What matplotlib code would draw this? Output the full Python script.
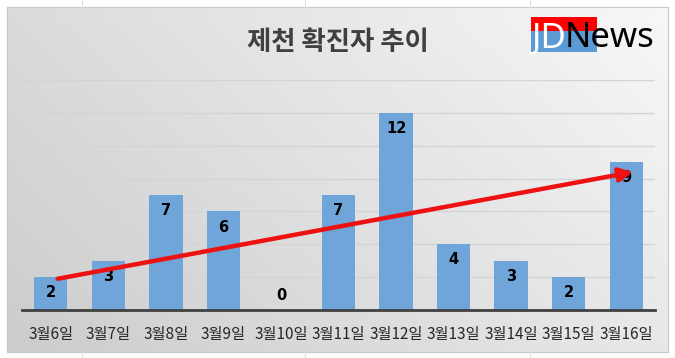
import numpy as np
import matplotlib
matplotlib.use('Agg')
import matplotlib.pyplot as plt
from matplotlib.patches import Rectangle

plt.rcParams['font.family'] = ['Noto Sans CJK KR', 'DejaVu Sans']

dates = ['3월6일', '3월7일', '3월8일', '3월9일', '3월10일', '3월11일',
         '3월12일', '3월13일', '3월14일', '3월15일', '3월16일']
cases = [2, 3, 7, 6, 0, 7, 12, 4, 3, 2, 9]
title = '제천 확진자 추이'

W, H = 675, 358
fig = plt.figure(figsize=(W / 100, H / 100), dpi=100)
fig.patch.set_facecolor('white')

# faint spreadsheet cell lines peeking out around the chart
for x in [82, 305, 530]:
    fig.add_artist(plt.Line2D([x / W, x / W], [1 - 7 / H, 1], color='#e0e0e0', lw=0.8))
    fig.add_artist(plt.Line2D([x / W, x / W], [0, 6 / H], color='#e0e0e0', lw=0.8))

# chart area with grey gradient
bg = fig.add_axes([7 / W, 6 / H, 661 / W, 345 / H])
gx, gy = np.meshgrid(np.linspace(0, 1, 200), np.linspace(0, 1, 120))
shade = 0.80 + 0.11 * gx + 0.06 * (1 - gy)
shade = np.clip(shade, 0, 0.97)
bg.imshow(np.dstack([shade] * 3), aspect='auto', extent=[0, 1, 0, 1], origin='upper')
bg.set_xticks([])
bg.set_yticks([])
for s in bg.spines.values():
    s.set_color('#c8c8c8')
    s.set_linewidth(0.8)

ax = fig.add_axes([22 / W, 1 - 310 / H, 633 / W, 230 / H])
ax.patch.set_alpha(0)
x = np.arange(len(cases))
ax.bar(x, cases, width=0.58, color='#6fa5d9', zorder=3)
ax.set_xlim(-0.5, len(cases) - 0.5)
ax.set_ylim(0, 14)
ax.set_yticks(np.arange(0, 15, 2))
ax.yaxis.grid(True, color='#d4d4d4', lw=1, zorder=0)
ax.tick_params(axis='y', left=False, labelleft=False)
ax.tick_params(axis='x', bottom=False, pad=8)
ax.set_xticks(x)
ax.set_xticklabels(dates, fontsize=11, color='#262626')
for s in ['top', 'right', 'left']:
    ax.spines[s].set_visible(False)
ax.spines['bottom'].set_color('#404040')
ax.spines['bottom'].set_linewidth(2)
ax.spines['bottom'].set_zorder(4)

for xi, v in zip(x, cases):
    ax.text(xi, max(v - 0.95, 0.9), str(v), ha='center', va='center',
            fontsize=10.5, fontweight='bold', color='black', zorder=5,
            family='DejaVu Sans')

# trend arrow
ax.annotate('', xy=(10.12, 8.4), xytext=(0.12, 1.9),
            arrowprops=dict(arrowstyle='-|>,head_length=0.8,head_width=0.4',
                            color='#ee1111', lw=3.2, shrinkA=0, shrinkB=0),
            zorder=6)

fig.text(338 / W, 1 - 42 / H, title, ha='center', va='center',
         fontsize=19, fontweight='bold', color='#404040')

# JDNews logo
fig.add_artist(Rectangle((531 / W, 1 - 31 / H), 66 / W, 14 / H,
                         facecolor='#ff0000', edgecolor='none'))
fig.add_artist(Rectangle((531 / W, 1 - 52 / H), 66 / W, 21 / H,
                         facecolor='#5b9bd5', edgecolor='none'))
jd = fig.text(532 / W, 1 - 47 / H, 'JD', color='white', fontsize=25,
              family='Noto Sans', va='baseline')
fig.canvas.draw()
bb = jd.get_window_extent()
fig.text(bb.x1 / W - 0.003, 1 - 47 / H, 'News', color='black', fontsize=25,
         family='Noto Sans', va='baseline')

fig.savefig('out.png', dpi=100)
